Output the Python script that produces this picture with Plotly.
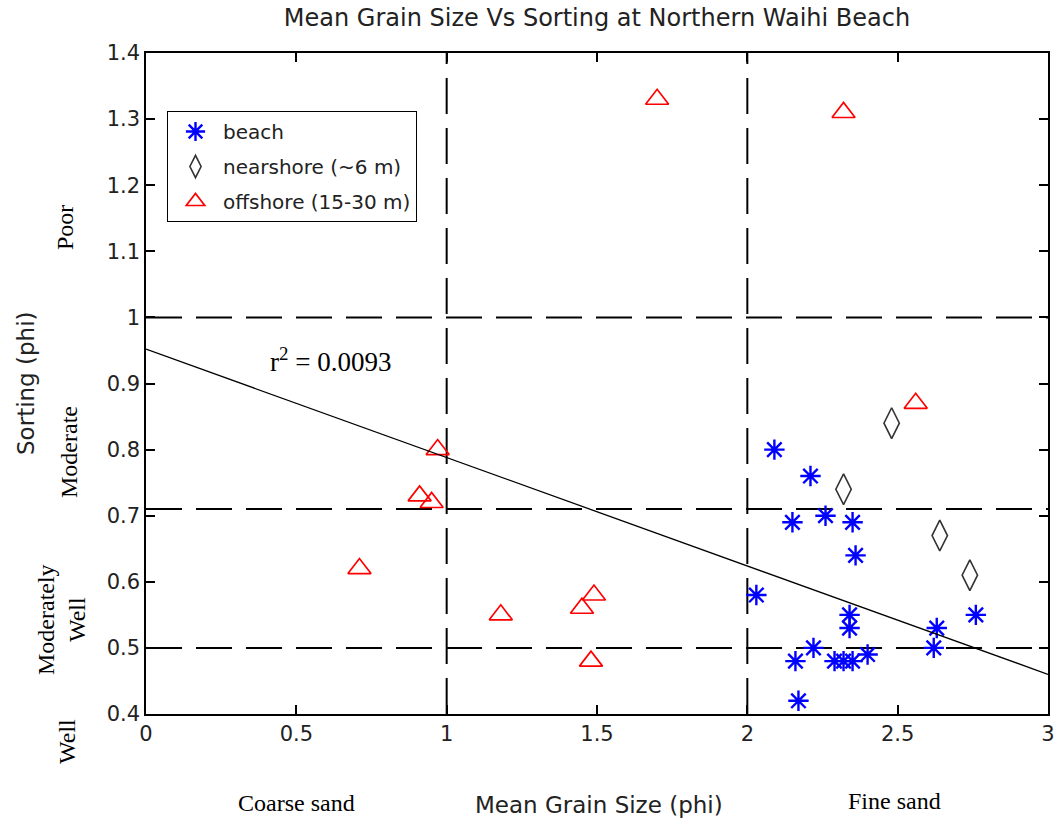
import plotly.graph_objects as go

# Mean grain size (phi) and sorting (phi) per sample group
beach_size = [2.09, 2.21, 2.15, 2.26, 2.35, 2.36, 2.03, 2.34, 2.34, 2.63,
              2.76, 2.22, 2.62, 2.16, 2.29, 2.32, 2.35, 2.40, 2.17]
beach_sort = [0.80, 0.76, 0.69, 0.70, 0.69, 0.64, 0.58, 0.55, 0.53, 0.53,
              0.55, 0.50, 0.50, 0.48, 0.48, 0.48, 0.48, 0.49, 0.42]

near_size = [2.48, 2.32, 2.64, 2.74]
near_sort = [0.84, 0.74, 0.67, 0.61]

off_size = [1.70, 2.32, 2.56, 0.97, 0.91, 0.95, 1.18, 1.45, 1.49, 1.48, 0.71]
off_sort = [1.33, 1.31, 0.87, 0.80, 0.73, 0.72, 0.55, 0.56, 0.58, 0.48, 0.62]

# Linear fit through all samples
fit_intercept = 0.952
fit_slope = -0.164
fit_x = [0, 3]
r_squared = 0.0093

# Class boundaries
size_bounds = [1, 2]            # coarse / medium / fine sand
sort_bounds = [0.5, 0.71, 1.0]  # well / mod. well / moderate / poor

x_ticks = [0, 0.5, 1, 1.5, 2, 2.5, 3]
x_tick_text = ["0", "0.5", "1", "1.5", "2", "2.5", "3"]
y_ticks = [0.4, 0.5, 0.6, 0.7, 0.8, 0.9, 1.0, 1.1, 1.2, 1.3, 1.4]
y_tick_text = ["0.4", "0.5", "0.6", "0.7", "0.8", "0.9", "1", "1.1", "1.2", "1.3", "1.4"]

W, H = 1057, 828
L, R, T, B = 146, 9, 53, 114
PW, PH = W - L - R, H - T - B


def px_x(px):
    return (px - L) / PW


def px_y(py):
    return (H - B - py) / PH


fig = go.Figure()

fig.add_trace(go.Scatter(
    x=beach_size, y=beach_sort, mode="markers", name="beach",
    legendgroup="a",
    marker=dict(symbol="asterisk-open", size=17, color="#0000ff",
                line=dict(color="#0000ff", width=2.4)),
))
fig.add_trace(go.Scatter(
    x=near_size, y=near_sort, mode="markers", name="nearshore (~6 m)",
    legendgroup="b",
    marker=dict(symbol="diamond-tall-open", size=22, color="#333333",
                line=dict(color="#333333", width=1.6)),
))
fig.add_trace(go.Scatter(
    x=off_size, y=off_sort, mode="markers", name="offshore (15-30 m)",
    legendgroup="c",
    marker=dict(symbol="triangle-up-open", size=20, color="#ff0000",
                line=dict(color="#ff0000", width=1.7)),
))

fit_y = [fit_intercept + fit_slope * v for v in fit_x]
fig.add_trace(go.Scatter(
    x=fit_x, y=fit_y, mode="lines", showlegend=False,
    line=dict(color="#000000", width=1.3),
))

dash = "36px,14px"
for xb in size_bounds:
    fig.add_shape(type="line", xref="x", yref="paper", x0=xb, x1=xb, y0=0, y1=1,
                  line=dict(color="#000000", width=2, dash=dash), layer="below")
for yb in sort_bounds:
    fig.add_shape(type="line", xref="paper", yref="y", x0=0, x1=1, y0=yb, y1=yb,
                  line=dict(color="#000000", width=2, dash=dash), layer="below")

sans = "DejaVu Sans, Verdana, sans-serif"
serif = "Liberation Serif, Times New Roman, serif"
txt = "#222222"

ann = []
ann.append(dict(text="Mean Grain Size (phi)", xref="paper", yref="paper",
                x=px_x(599), y=px_y(805), xanchor="center", yanchor="middle",
                showarrow=False, font=dict(family=sans, size=23, color=txt)))
ann.append(dict(text="Sorting (phi)", xref="paper", yref="paper",
                x=px_x(26), y=px_y(383), xanchor="center", yanchor="middle",
                textangle=-90, showarrow=False,
                font=dict(family=sans, size=23, color=txt)))
ann.append(dict(text="Coarse sand", xref="paper", yref="paper",
                x=px_x(296), y=px_y(803), xanchor="center", yanchor="middle",
                showarrow=False, font=dict(family=serif, size=24, color="#000000")))
ann.append(dict(text="Fine sand", xref="paper", yref="paper",
                x=px_x(894), y=px_y(801), xanchor="center", yanchor="middle",
                showarrow=False, font=dict(family=serif, size=24, color="#000000")))

# Sorting class names along the y axis
for label, cx, cy in [("Poor", 65, 228), ("Moderate", 69, 452),
                      ("Moderately<br>Well", 61, 620), ("Well", 67, 742)]:
    ann.append(dict(text=label, xref="paper", yref="paper",
                    x=px_x(cx), y=px_y(cy), xanchor="center", yanchor="middle",
                    textangle=-90, showarrow=False,
                    font=dict(family=serif, size=24, color="#000000")))

ann.append(dict(text="r<sup>2</sup> = %.4f" % r_squared, xref="paper", yref="paper",
                x=px_x(330), y=px_y(360), xanchor="center", yanchor="middle",
                showarrow=False, font=dict(family=serif, size=27, color="#000000")))

axis_common = dict(showline=True, linecolor="#000000", linewidth=1.5, mirror="ticks",
                   ticks="inside", ticklen=9, tickwidth=1.5, tickcolor="#000000",
                   showgrid=False, zeroline=False, automargin=False,
                   tickfont=dict(family=sans, size=21, color=txt))

fig.update_layout(
    width=W, height=H,
    margin=dict(l=L, r=R, t=T, b=B),
    paper_bgcolor="#ffffff", plot_bgcolor="#ffffff",
    title=dict(text="Mean Grain Size Vs Sorting at Northern Waihi Beach",
               x=597 / W, xanchor="center", y=1 - 18 / H, yanchor="middle",
               font=dict(family=sans, size=24, color=txt)),
    xaxis=dict(range=[0, 3], tickvals=x_ticks, ticktext=x_tick_text, **axis_common),
    yaxis=dict(range=[0.4, 1.4], tickvals=y_ticks, ticktext=y_tick_text, **axis_common),
    legend=dict(x=px_x(167), y=px_y(111), xanchor="left", yanchor="top",
                bgcolor="#ffffff", bordercolor="#000000", borderwidth=1,
                font=dict(family=sans, size=20, color=txt),
                tracegroupgap=6, itemwidth=45),
    annotations=ann,
    showlegend=True,
)

fig.write_html("out.html")
